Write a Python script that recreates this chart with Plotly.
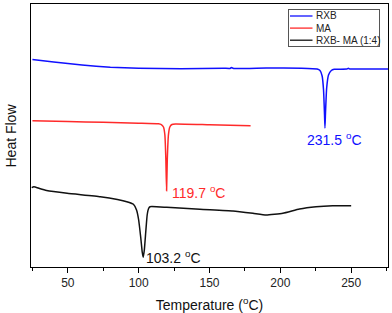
import plotly.graph_objects as go

# RXB
rxb_t = [25, 40, 60, 80, 100, 130, 160, 164.5, 165.5, 167, 190, 215, 226, 228, 229.5, 230.5,
         231.2, 231.5, 231.9, 232.7, 234, 236, 238, 247, 248, 249, 260, 276]
rxb_hf = [21.05, 20.8, 20.5, 20.27, 20.17, 20.13, 20.17, 20.16, 20.24, 20.16, 20.2, 20.18, 20.1,
          19.95, 19.4, 18.0, 15.5, 14.2, 15.8, 18.2, 19.5, 19.95, 20.07, 20.1, 20.18, 20.1, 20.1, 20.1]

# MA
ma_t = [25, 50, 75, 100, 114, 116, 117.5, 118.5, 119.2, 119.7, 120.2, 121, 122, 123.5, 126, 150, 179]
ma_hf = [14.93, 14.85, 14.77, 14.68, 14.62, 14.54, 14.3, 13.5, 11.0, 7.93, 11.0, 13.5, 14.3,
         14.55, 14.6, 14.52, 14.43]

# RXB- MA (1:4)
mix_t = [24.5, 26, 30, 35, 49.5, 72.9, 85, 91.6, 96.3, 98.5, 100, 101.5, 102.5, 103.2, 104, 105,
         106, 107, 108, 119.8, 143.2, 166.6, 180.7, 190, 201.8, 213.5, 225.2, 236.9, 250]
mix_hf = [8.23, 8.33, 8.15, 7.95, 7.67, 7.33, 7.05, 6.83, 6.57, 6.0, 5.0, 3.2, 1.8, 1.27, 2.0, 3.8,
          5.5, 6.15, 6.33, 6.27, 6.07, 5.9, 5.67, 5.5, 5.67, 6.1, 6.33, 6.43, 6.43]

series_names = ["RXB", "MA", "RXB- MA (1:4)"]
series_colors = ["#1010ff", "#ff2a2a", "#111111"]
x_ticks = [50, 100, 150, 200, 250]

FONT = "Liberation Sans, Arial, sans-serif"

W, H = 392, 313
ML, MR, MT, MB = 31, 4, 4, 46
PW, PH = W - ML - MR, H - MT - MB


def px_x(px):
    return (px - ML) / PW


def px_y(py):
    return (H - MB - py) / PH


fig = go.Figure()
for t, hf, name, col in zip([rxb_t, ma_t, mix_t], [rxb_hf, ma_hf, mix_hf], series_names, series_colors):
    fig.add_trace(go.Scatter(x=t, y=hf, mode="lines", name=name, showlegend=False,
                             line=dict(color=col, width=1.5, shape="spline", smoothing=0.4)))

fig.add_annotation(x=217.5, y=13.1, text="231.5 <sup>o</sup>C", showarrow=False, xanchor="left",
                   yanchor="middle", font=dict(color=series_colors[0], size=14, family=FONT))
fig.add_annotation(x=122.2, y=7.83, text="119.7 <sup>o</sup>C", showarrow=False, xanchor="left",
                   yanchor="middle", font=dict(color=series_colors[1], size=14, family=FONT))
fig.add_annotation(x=103.8, y=1.33, text="103.2 <sup>o</sup>C", showarrow=False, xanchor="left",
                   yanchor="middle", font=dict(color=series_colors[2], size=14, family=FONT))

# y axis title as rotated annotation
fig.add_annotation(x=0, y=0.5, xref="paper", yref="paper", text="Heat Flow", showarrow=False,
                   textangle=-90, xanchor="center", yanchor="middle", xshift=-21,
                   font=dict(size=14, family=FONT, color="#111111"))

# compact legend: bordered frame built as an annotation box
fig.add_annotation(x=px_x(288), y=px_y(9), xref="paper", yref="paper", text=" ",
                   showarrow=False, xanchor="left", yanchor="top", width=90, height=36,
                   bordercolor="#555555", borderwidth=1, borderpad=0,
                   font=dict(size=10, family=FONT))
for i, (name, col) in enumerate(zip(series_names, series_colors)):
    yy = px_y(16 + i * 12.1)
    fig.add_shape(type="line", xref="paper", yref="paper", x0=px_x(290), x1=px_x(312.5),
                  y0=yy, y1=yy, line=dict(color=col, width=1.3), layer="above")
    fig.add_annotation(x=px_x(314), y=yy, xref="paper", yref="paper", text=name,
                       showarrow=False, xanchor="left", yanchor="middle",
                       font=dict(size=10, family=FONT, color="#222222"))

fig.update_layout(
    width=W, height=H,
    margin=dict(l=ML, r=MR, t=MT, b=MB, autoexpand=False),
    paper_bgcolor="white", plot_bgcolor="white",
    font=dict(family=FONT, color="#222222", size=12),
    showlegend=False,
    xaxis=dict(range=[24, 276], tickvals=x_ticks, ticks="outside", ticklen=5, tickcolor="black",
               showline=True, linecolor="black", linewidth=1, mirror=True, showgrid=False,
               zeroline=False,
               minor=dict(dtick=25, tick0=0, ticks="outside", ticklen=3, tickcolor="black"),
               title=dict(text="Temperature (<sup>o</sup>C)", font=dict(size=14, family=FONT,
                          color="#111111"), standoff=12),
               tickfont=dict(size=12, color="#222222")),
    yaxis=dict(range=[0.3, 26.6], showticklabels=False, ticks="", showline=True,
               linecolor="black", linewidth=1, mirror=True, showgrid=False, zeroline=False),
)

fig.write_html("out.html", config={"displayModeBar": False},
               post_script="document.body.style.margin='0';document.body.style.padding='0';")
